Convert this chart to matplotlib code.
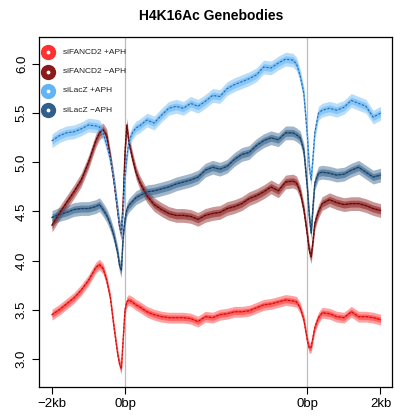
import matplotlib

matplotlib.use("Agg")
import matplotlib.pyplot as plt

plt.rcParams["font.family"] = ["Liberation Sans", "DejaVu Sans"]

# bin positions: 0 = -2kb, 20 = TSS, 70 = TES, 90 = +2kb
X_BINS = [0, 2, 4, 6, 8, 10, 12, 13, 14, 15, 16, 17, 18, 18.5, 19, 19.5,
          20, 20.5, 21, 22, 23, 24, 26, 28, 30, 32, 34, 36, 38, 40, 42, 44,
          46, 48, 50, 52, 54, 56, 58, 60, 62, 64, 66, 67, 68, 69, 70, 70.5,
          71, 71.5, 72, 73, 74, 76, 78, 80, 82, 84, 86, 88, 90]

FANCD2_APH = [3.45, 3.50, 3.56, 3.62, 3.70, 3.80, 3.93, 3.96, 3.92, 3.80,
              3.62, 3.32, 3.05, 2.95, 2.90, 3.20, 3.50, 3.58, 3.60, 3.58,
              3.55, 3.53, 3.48, 3.45, 3.43, 3.42, 3.42, 3.42, 3.41, 3.38,
              3.43, 3.42, 3.45, 3.46, 3.48, 3.48, 3.49, 3.52, 3.55, 3.56,
              3.58, 3.60, 3.59, 3.58, 3.52, 3.40, 3.18, 3.11, 3.12, 3.22,
              3.32, 3.42, 3.47, 3.46, 3.43, 3.42, 3.48, 3.43, 3.43, 3.42,
              3.40]

FANCD2_NOAPH = [4.36, 4.48, 4.59, 4.70, 4.82, 5.00, 5.22, 5.30, 5.33, 5.27,
                5.05, 4.80, 4.50, 4.35, 4.28, 4.60, 5.10, 5.38, 5.22, 5.05,
                4.90, 4.80, 4.66, 4.57, 4.52, 4.48, 4.46, 4.46, 4.45, 4.42,
                4.46, 4.48, 4.49, 4.53, 4.55, 4.58, 4.63, 4.66, 4.70, 4.75,
                4.71, 4.80, 4.81, 4.79, 4.70, 4.52, 4.25, 4.10, 4.04, 4.20,
                4.38, 4.50, 4.58, 4.62, 4.59, 4.57, 4.58, 4.58, 4.56, 4.53,
                4.51]

LACZ_APH = [5.22, 5.27, 5.30, 5.31, 5.34, 5.38, 5.37, 5.36, 5.30, 5.18,
            5.03, 4.82, 4.52, 4.36, 4.28, 4.50, 4.85, 5.05, 5.20, 5.30,
            5.35, 5.37, 5.43, 5.40, 5.48, 5.55, 5.57, 5.55, 5.60, 5.57,
            5.62, 5.68, 5.67, 5.75, 5.79, 5.82, 5.85, 5.89, 5.97, 5.96,
            6.01, 6.05, 6.04, 6.00, 5.88, 5.70, 5.25, 4.95, 4.82, 5.05,
            5.30, 5.50, 5.53, 5.55, 5.53, 5.56, 5.63, 5.60, 5.57, 5.46,
            5.50]

LACZ_NOAPH = [4.44, 4.47, 4.49, 4.52, 4.53, 4.53, 4.55, 4.57, 4.52, 4.46,
              4.37, 4.25, 4.08, 3.95, 3.90, 4.25, 4.42, 4.52, 4.56, 4.60,
              4.64, 4.66, 4.70, 4.71, 4.73, 4.75, 4.78, 4.80, 4.82, 4.85,
              4.92, 4.95, 4.93, 4.96, 5.03, 5.08, 5.10, 5.17, 5.22, 5.25,
              5.23, 5.30, 5.30, 5.28, 5.25, 5.12, 4.72, 4.45, 4.28, 4.55,
              4.79, 4.89, 4.90, 4.89, 4.87, 4.88, 4.92, 4.95, 4.90, 4.85,
              4.87]

SERIES_LABELS = ["siFANCD2 +APH", "siFANCD2 \u2212APH", "siLacZ +APH", "siLacZ \u2212APH"]
SERIES_COLORS = ["#ff3030", "#8b1a1a", "#62b4f5", "#2f5f8a"]
LINE_COLORS = ["#b01010", "#4a0808", "#2a5f95", "#1a3550"]
BAND_WIDTHS = [0.055, 0.07, 0.07, 0.07]

TICK_POS = [0, 20, 70, 90]
TICK_LABELS = ["\u22122kb", "0bp", "0bp", "2kb"]
Y_TICKS = [3.0, 3.5, 4.0, 4.5, 5.0, 5.5, 6.0]


def main() -> None:
    fig = plt.figure(figsize=(3.95, 4.18), dpi=100)
    ax = fig.add_axes([0.0987, 0.0742, 0.8937, 0.8373])

    for pos in (20, 70):
        ax.axvline(pos, color="#bdbdbd", lw=0.9, zorder=1)

    data = [FANCD2_APH, FANCD2_NOAPH, LACZ_APH, LACZ_NOAPH]
    for values, col, lcol, bw in zip(data, SERIES_COLORS, LINE_COLORS, BAND_WIDTHS):
        lo = [v - bw for v in values]
        hi = [v + bw for v in values]
        ax.fill_between(X_BINS, lo, hi, color=col, alpha=0.45, lw=0, zorder=2)
        lo2 = [v - bw / 2 for v in values]
        hi2 = [v + bw / 2 for v in values]
        ax.fill_between(X_BINS, lo2, hi2, color=col, alpha=0.55, lw=0, zorder=3)
        ax.plot(X_BINS, values, color=col, lw=1.0, zorder=4)
        ax.plot(X_BINS, values, color=lcol, lw=0.7, ls=(0, (2, 2)), zorder=5)

    ax.set_xlim(-3.56, 93.15)
    ax.set_ylim(2.715, 6.275)
    ax.set_xticks(TICK_POS)
    ax.set_xticklabels(TICK_LABELS, fontsize=9.5)
    ax.set_yticks(Y_TICKS)
    ax.set_yticklabels([f"{v:.1f}" for v in Y_TICKS], fontsize=9.5,
                       rotation=90, va="center")
    ax.tick_params(direction="out", length=5, width=0.8, pad=3)
    for sp in ax.spines.values():
        sp.set_linewidth(0.9)

    legend_y = [0.957, 0.900, 0.846, 0.791]
    for label, col, yy in zip(SERIES_LABELS, SERIES_COLORS, legend_y):
        ax.scatter([0.0255], [yy], s=100, color=col, transform=ax.transAxes,
                   zorder=6, clip_on=False)
        ax.scatter([0.0255], [yy], s=3, color="white", transform=ax.transAxes,
                   zorder=7, clip_on=False)
        ax.text(0.068, yy, label, transform=ax.transAxes, fontsize=6,
                va="center", ha="left", color="#222222")

    fig.text(0.534, 0.962, "H4K16Ac Genebodies", ha="center", va="center",
             fontsize=10, fontweight="bold")

    fig.savefig("out.png", dpi=100)
    plt.close(fig)


if __name__ == "__main__":
    main()
